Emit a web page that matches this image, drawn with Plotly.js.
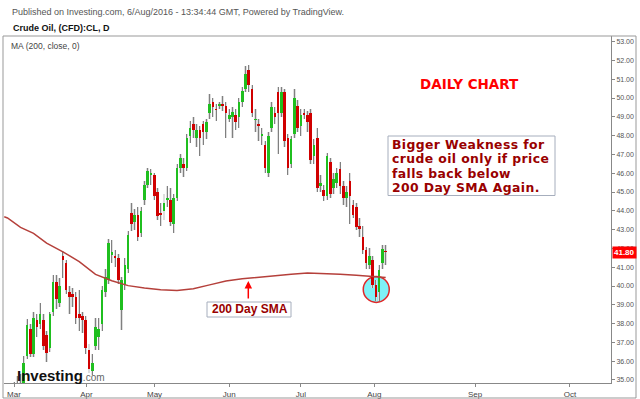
<!DOCTYPE html>
<html><head><meta charset="utf-8">
<script src="https://cdn.plot.ly/plotly-3.0.1.min.js"></script>
<style>html,body{margin:0;padding:0;background:#fff;overflow:hidden}#chart{width:640px;height:399px}</style>
</head><body><div id="chart"></div>
<script>
// Daily candles (bar index 0 = early March 2016 ... 114 = Aug 5 2016)
const openP  = [34.3,34.6,34.4,34.6,36.3,37.7,36.4,38.2,38.0,38.2,37.4,36.7,38.6,40.2,39.1,41.6,41.2,39.7,39.6,39.4,38.5,38.4,38.2,36.6,35.5,36.8,37.3,38.0,39.7,40.3,41.65,41.6,41.5,38.7,40.05,40.9,43.9,43.4,43.8,42.8,44.6,45.4,45.9,45.9,45.0,43.9,44.0,44.6,44.6,43.3,44.7,46.3,46.5,46.3,48.0,48.6,47.9,48.3,48.6,48.2,49.2,49.8,49.4,49.6,49.7,49.6,48.9,49.0,49.1,49.0,49.8,50.5,51.5,50.5,48.85,48.6,48.0,47.5,46.0,48.4,49.2,50.3,49.2,50.3,47.9,46.5,48.1,49.6,48.5,49.2,49.1,49.2,46.9,47.9,45.3,45.1,44.8,46.6,45.2,45.5,46.2,45.3,44.7,45.6,44.3,44.2,43.2,42.6,41.9,41.1,41.4,40.05,39.7,41.2,41.85];
const highP  = [34.9,35.2,35.3,36.3,38.25,38.0,38.6,38.5,39.1,38.5,37.6,38.6,40.6,40.6,40.4,41.85,41.4,40.0,39.9,39.7,39.8,38.6,38.4,36.9,36.4,38.3,38.3,40.0,40.9,42.5,42.45,41.9,41.7,40.5,41.5,42.9,44.4,44.1,44.2,44.2,45.6,46.3,46.2,46.0,45.2,44.4,44.9,45.3,45.2,44.9,46.5,47.0,46.8,48.1,48.8,49.0,48.6,48.5,48.8,48.9,50.2,50.0,49.7,49.8,50.1,49.8,49.4,49.5,49.4,50.0,50.6,51.7,51.75,50.7,49.4,48.9,48.4,47.7,48.2,49.8,49.5,50.6,50.6,50.5,48.1,48.0,50.5,49.9,49.4,49.4,49.3,49.4,47.8,48.4,45.9,45.4,47.1,46.8,46.0,46.3,46.6,45.6,45.3,46.0,44.6,44.4,43.6,43.2,42.1,42.0,41.6,40.3,41.1,42.2,42.2];
const lowP   = [33.9,34.0,34.2,34.4,36.1,36.2,36.2,37.3,37.7,36.6,35.95,36.5,38.4,38.8,38.9,40.4,39.6,38.5,38.9,38.0,37.6,37.5,36.4,35.35,35.25,36.6,36.6,37.6,39.4,40.1,41.2,41.0,40.1,37.65,39.8,40.7,42.9,43.0,42.4,42.6,44.3,45.2,45.4,44.6,43.5,43.2,43.5,44.2,43.2,42.8,44.5,46.0,45.8,46.1,47.6,47.9,47.4,46.9,47.5,47.8,48.9,49.0,48.8,49.4,49.3,47.9,48.7,47.9,48.3,48.4,49.5,50.3,50.3,49.0,48.2,47.7,47.5,46.0,45.8,48.2,48.6,47.0,49.0,47.4,45.9,46.3,47.9,48.2,48.0,48.9,48.2,46.5,46.5,45.0,45.0,44.5,44.6,44.7,44.9,45.2,44.9,44.3,44.2,43.3,43.6,43.0,42.6,41.7,40.9,40.9,39.9,39.2,39.2,40.9,41.1];
const closeP = [34.5,34.4,34.6,35.9,37.9,36.4,38.3,37.8,38.5,36.8,36.45,38.5,40.2,39.3,40.0,41.4,39.8,39.4,39.4,38.3,38.3,38.2,36.7,35.6,35.9,37.8,37.7,39.8,40.5,42.3,41.8,41.5,40.3,40.3,41.1,42.7,43.3,43.8,42.6,44.0,45.4,46.1,46.0,44.8,43.7,43.8,44.4,44.7,43.4,44.7,46.3,46.8,46.3,47.9,48.4,48.3,48.3,47.9,48.2,48.7,49.7,49.5,49.35,49.65,49.6,49.2,49.1,49.25,48.7,49.8,50.4,51.3,50.7,49.2,48.9,48.5,48.1,46.3,48.0,49.5,49.0,49.2,50.3,47.7,46.3,47.8,50.0,48.4,49.1,49.1,48.7,46.7,47.5,45.2,45.5,44.8,46.9,44.9,45.7,46.0,45.3,44.7,45.0,44.8,43.8,43.15,43.05,41.9,41.2,41.6,40.05,39.4,40.85,41.95,41.8];

// 200-day simple moving average, read at these bar indices
const smaIdx = [-3,-2,2,6,10,15,20,25,30,35,40,45,50,55,60,65,70,75,80,85,90,95,100,105,110,114];
const smaVal = [43.68,43.62,43.12,42.80,42.28,41.82,41.30,40.62,40.28,40.02,39.90,39.80,39.76,39.85,40.06,40.27,40.38,40.47,40.56,40.62,40.69,40.67,40.62,40.57,40.50,40.45];

const monthTickPos  = [0,22.2,43.1,66,88,110.5,141.4,170.5];
const monthTickText = ['Mar','Apr','May','Jun','Jul','Aug','Sep','Oct'];

const idx = openP.map((_, i) => i);
const wickLen  = highP.map((h, i) => h - lowP[i]);
const bodyBase = openP.map((o, i) => Math.min(o, closeP[i]));
const bodyLen  = openP.map((o, i) => Math.max(Math.abs(closeP[i] - o), 0.06));
const bodyCol  = openP.map((o, i) => closeP[i] > o ? '#1fbf1f' : (closeP[i] < o ? '#d00000' : '#333'));

const FONT = 'Liberation Sans, Arial, sans-serif';
const VFONT = 'DejaVu Sans, Verdana, sans-serif';
const px = x => (x - 4) / 607;
const py = y => (383 - y) / 347;

const traces = [
  {type:'bar', x:idx, base:lowP, y:wickLen, width:0.75, marker:{color:'#dedede', line:{width:0}}, hoverinfo:'skip'},
  {type:'bar', x:idx, base:lowP, y:wickLen, width:0.3, marker:{color:'#808080', line:{width:0}}, hoverinfo:'skip'},
  {type:'bar', x:idx, base:bodyBase, y:bodyLen, width:0.8, marker:{color:bodyCol, line:{width:0}}, hoverinfo:'skip'},
  {type:'scatter', mode:'lines', x:smaIdx, y:smaVal, line:{color:'#b5403b', width:1.5}, hoverinfo:'skip'}
];

const lastClose = closeP[closeP.length - 1];
const boxLines = ['Bigger Weakness for', 'crude oil only if price', 'falls back below', '200 Day SMA Again.'];
const boxLineY = [144.6, 158.8, 173.0, 187.2];

const annotations = [
  {xref:'paper', yref:'paper', x:px(10), y:py(12), xanchor:'left', yanchor:'middle', showarrow:false,
   text:'Published on Investing.com, 6/Aug/2016 - 13:34:44 GMT, Powered by TradingView.', font:{family:FONT, size:9, color:'#555'}},
  {xref:'paper', yref:'paper', x:px(10.5), y:py(28), xanchor:'left', yanchor:'middle', showarrow:false,
   text:'<b>Crude Oil, (CFD):CL, D</b>', font:{family:FONT, size:9, color:'#111'}},
  {xref:'paper', yref:'paper', x:px(9), y:py(46.5), xanchor:'left', yanchor:'middle', showarrow:false,
   text:'MA (200, close, 0)', font:{family:FONT, size:8.5, color:'#444'}},
  {xref:'paper', yref:'paper', x:px(469), y:py(84), xanchor:'center', yanchor:'middle', showarrow:false,
   text:'<b>DAILY CHART</b>', font:{family:VFONT, size:13.5, color:'#ff0000'}},
  {xref:'paper', yref:'paper', x:px(249.5), y:py(309.3), xanchor:'center', yanchor:'middle', showarrow:false,
   text:'<b>200 Day SMA</b>', font:{family:FONT, size:12, color:'#990000'}},
  {xref:'paper', yref:'paper', x:px(248.3), y:py(281), text:'', showarrow:true, ax:0, ay:19,
   arrowhead:2, arrowsize:1, arrowwidth:1.5, arrowcolor:'#ff0000', standoff:0},
  {xref:'paper', yref:'y', x:1, y:lastClose, xanchor:'left', yanchor:'middle', xshift:1, showarrow:false,
   text:'<b>' + lastClose.toFixed(2) + '</b>', bgcolor:'#ff0000', borderpad:1,
   font:{family:FONT, size:8, color:'#fff'}},
  {xref:'paper', yref:'paper', x:px(14.5), y:py(375), xanchor:'left', yanchor:'middle', showarrow:false,
   text:'<b>Investing</b><span style="font-size:10px;color:#666">.com</span>', font:{family:FONT, size:15, color:'#111'}}
];
boxLines.forEach((t, i) => annotations.push({
  xref:'paper', yref:'paper', x:px(390.5), y:py(boxLineY[i]), xanchor:'left', yanchor:'middle', showarrow:false,
  borderpad:0, text:'<span style="letter-spacing:0.4px"><b>' + t + '</b></span>', font:{family:VFONT, size:12.4, color:'#990000'}
}));

const layout = {
  width:640, height:399,
  margin:{l:4, r:29, t:36, b:16, pad:0},
  paper_bgcolor:'#fff', plot_bgcolor:'#fff',
  showlegend:false, hovermode:false, dragmode:false,
  font:{family:FONT, size:9, color:'#444'},
  barmode:'overlay', bargap:0,
  xaxis:{range:[-3.07,183.1], tickmode:'array', tickvals:monthTickPos, ticktext:monthTickText,
    ticks:'outside', ticklen:3, tickcolor:'#888', showline:true, linecolor:'#888', linewidth:1,
    showgrid:false, zeroline:false, fixedrange:true,
    tickfont:{family:FONT, size:8, color:'#444'}},
  yaxis:{side:'right', range:[34.84,53.3], tick0:35, dtick:1, tickformat:'.2f',
    ticks:'outside', ticklen:3, tickcolor:'#888', showline:true, linecolor:'#888', linewidth:1,
    showgrid:false, zeroline:false, fixedrange:true,
    tickfont:{family:FONT, size:7, color:'#555'}},
  shapes:[
    {type:'rect', xref:'paper', yref:'paper', x0:px(3), x1:px(636), y0:py(398), y1:py(36), line:{color:'#999', width:1}},
    {type:'circle', xref:'x', yref:'y', xsizemode:'pixel', ysizemode:'pixel', xanchor:111.1, yanchor:39.82,
     x0:-13, x1:13, y0:-13, y1:13, fillcolor:'#7ef1f6', line:{color:'#e02828', width:1.5}, layer:'below'},
    {type:'rect', xref:'paper', yref:'paper', x0:px(388), x1:px(555), y0:py(195.5), y1:py(136), fillcolor:'#fff', line:{color:'#a6aebd', width:1}},
    {type:'rect', xref:'paper', yref:'paper', x0:px(207), x1:px(291), y0:py(317), y1:py(302), fillcolor:'#fff', line:{color:'#a6aebd', width:1}}
  ],
  annotations:annotations
};

Plotly.newPlot('chart', traces, layout, {staticPlot:true, displayModeBar:false});
</script>
</body></html>
